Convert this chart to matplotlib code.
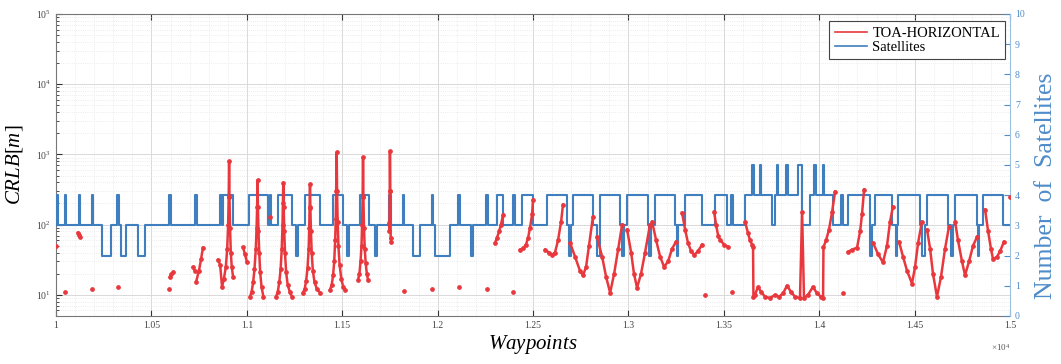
import numpy as np
import matplotlib.pyplot as plt
from matplotlib.lines import Line2D
from matplotlib.ticker import FixedLocator, LogLocator, NullFormatter, MultipleLocator

plt.rcParams['font.family'] = 'Liberation Serif'
plt.rcParams['mathtext.fontset'] = 'custom'
plt.rcParams['mathtext.rm'] = 'Liberation Serif'
plt.rcParams['mathtext.it'] = 'Liberation Serif:italic'

nan = np.nan

# number of visible satellites (step, level holds from x until next x)
sat_x = [10000, 10002, 10010, 10045, 10052, 10118, 10125, 10186, 10193, 10241, 10288, 10322, 10329,
         10341, 10367, 10430, 10466, 10594, 10601, 10726, 10740, 10862, 10869, 10875, 10928, 11012,
         11111, 11119, 11126, 11163, 11237, 11260, 11267, 11305, 11384, 11452, 11504, 11527, 11534,
         11593, 11640, 11674, 11681, 11747, 11754, 11816, 11823, 11871, 11908, 11968, 11975, 11986,
         12065, 12109, 12116, 12177, 12184, 12256, 12263, 12311, 12343, 12397, 12404, 12442, 12500,
         12573, 12678, 12689, 12700, 12710, 12814, 12835, 12851, 12956, 12968, 12976, 12993, 13103,
         13110, 13117, 13139, 13244, 13252, 13259, 13297, 13386, 13454, 13517, 13540, 13547, 13611,
         13650, 13657, 13687, 13694, 13753, 13768, 13776, 13783, 13828, 13835, 13889, 13910, 13952,
         13975, 13982, 14017, 14024, 14072, 14116, 14123, 14151, 14266, 14274, 14292, 14381, 14400,
         14410, 14413, 14528, 14540, 14556, 14565, 14675, 14690, 14700, 14712, 14827, 14830, 14837,
         14858, 14963, 15000]
sat_n = [3, 4, 3, 4, 3, 4, 3, 4, 3, 2, 3, 4, 3,
         2, 3, 2, 3, 4, 3, 4, 3, 4, 3, 4, 3, 4,
         3, 4, 3, 4, 3, 2, 3, 4, 3, 4, 3, 2, 3,
         4, 3, 2, 3, 4, 3, 4, 3, 2, 3, 4, 3, 2,
         3, 4, 3, 2, 3, 4, 3, 4, 3, 4, 3, 4, 3,
         4, 3, 2, 3, 4, 3, 2, 4, 3, 2, 3, 4, 3,
         2, 3, 4, 3, 2, 3, 4, 3, 4, 3, 4, 3, 4,
         5, 4, 5, 4, 3, 4, 5, 4, 5, 4, 5, 3, 4,
         5, 4, 5, 4, 3, 4, 3, 4, 2, 3, 4, 3, 2,
         3, 4, 3, 2, 3, 4, 3, 2, 3, 4, 3, 2, 3,
         4, 3, 3]

# CRLB horizontal (TOA), nan separates the track pieces
crlb_x = [10000, nan, 10047, nan, 10115, 10120, 10126, nan, 10189, nan, 10325, nan, 10592, nan,
          10597, 10605, 10613, nan, 10718, 10728, nan, 10734, 10749, 10760, 10770, nan,
          10849, 10860, 10870, 10880, 10890, 10897, 10902, 10905, 10907, 10909, 10912, 10916, 10921, 10928, nan,
          10980, 10990, 11001, nan,
          11017, 11025, 11033, 11040, 11047, 11051, 11054, 11056, 11058, 11061, 11065, 11070, 11077, 11087, nan,
          11122, nan,
          11153, 11162, 11170, 11177, 11183, 11187, 11189, 11191, 11193, 11196, 11200, 11206, 11214, 11225, 11237, nan,
          11294, 11303, 11311, 11318, 11324, 11327, 11329, 11331, 11333, 11336, 11340, 11346, 11355, 11368, 11384, nan,
          11436, 11445, 11452, 11458, 11463, 11466, 11468, 11471, 11473, 11476, 11480, 11486, 11495, 11505, 11515, nan,
          11583, 11590, 11596, 11601, 11604, 11607, 11609, 11611, 11614, 11618, 11623, 11629, 11635, nan,
          11745, 11747, 11749, 11750, 11752, 11754, 11756, nan,
          11824, nan, 11971, nan, 12112, nan, 12259, nan,
          12301, 12311, 12322, 12332, 12343, nan, 12395, nan,
          12432, 12448, 12463, 12474, 12484, 12495, 12500, nan,
          12563, 12584, 12600, 12615, 12631, 12647, 12657, nan,
          12694, 12720, 12746, 12762, 12778, 12793, 12814, nan,
          12835, 12862, 12883, 12904, 12925, 12946, 12967, nan,
          12993, 13014, 13029, 13045, 13066, 13087, 13113, nan,
          13124, 13145, 13166, 13187, 13208, 13228, 13249, nan,
          13281, 13297, 13312, 13328, 13344, 13365, 13386, nan, 13401, nan,
          13449, 13459, 13470, 13480, 13501, 13522, nan, 13543, nan,
          13611, 13627, 13637, 13648, 13653, 13655, 13663, 13679, 13695, 13716, 13742, 13768, 13789,
          13810, 13831, 13852, 13873, 13899, 13910, 13920, 13941, 13967, 13988, 14009, 14020, 14022,
          14036, 14051, 14067, 14083, nan,
          14125, nan,
          14151, 14172, 14198, 14214, 14224, 14235, nan,
          14282, 14308, 14334, 14355, 14371, 14386, nan,
          14418, 14439, 14460, 14486, 14502, 14518, 14538, nan,
          14565, 14581, 14596, 14617, 14638, 14659, 14680, nan,
          14712, 14727, 14748, 14764, 14785, 14806, 14827, nan,
          14869, 14885, 14900, 14911, 14932, 14948, 14968, nan,
          15000]
crlb_y = [50, nan, 11.0, nan, 77, 72, 67, nan, 12.2, nan, 13, nan, 12.2, nan,
          18, 19.5, 21, nan, 25, 22, nan, 15.3, 22, 32, 47, nan,
          31.6, 27, 13, 17, 25, 45, 100, 250, 794, 250, 90, 40, 25, 18, nan,
          48, 38, 29, nan,
          9.4, 11, 15, 23, 45, 90, 180, 430, 180, 80, 40, 21, 13, 9.4, nan,
          130, nan,
          9.4, 11, 15, 23, 45, 100, 200, 398, 180, 80, 40, 21, 14, 11, 9.4, nan,
          10.7, 12, 16, 24, 45, 90, 180, 373, 170, 80, 40, 22, 15, 12, 10.7, nan,
          11.8, 14, 19, 30, 60, 120, 300, 1068, 300, 110, 50, 27, 17, 13, 11.8, nan,
          16.4, 20, 30, 50, 100, 250, 906, 250, 90, 45, 28, 20, 16.4, nan,
          107, 80, 300, 1104, 300, 65, 57, nan,
          11.2, nan, 12.2, nan, 13, nan, 12.2, nan,
          55, 65, 80, 100, 139, nan, 11.0, nan,
          44, 46, 52, 65, 90, 140, 227, nan,
          44, 40, 37, 40, 60, 110, 193, nan,
          55, 35, 22, 19, 25, 50, 130, nan,
          67, 35, 18, 10.7, 20, 45, 100, nan,
          85, 40, 20, 12.6, 20, 40, 100, nan,
          110, 60, 35, 25, 30, 45, 57, nan,
          148, 85, 55, 42, 37, 42, 52, nan, 10, nan,
          153, 100, 70, 61, 52, 48, nan, 11.0, nan,
          110, 75, 60, 52, 48, 9.4, 10, 13, 11, 9.4, 9.0, 10, 9.4,
          10.5, 13.5, 11, 9.4, 9.0, 153, 9.0, 10, 13, 10.5, 9.4, 9.0, 48,
          60, 85, 150, 296, nan,
          10.7, nan,
          41, 44, 47, 80, 140, 316, nan,
          55, 38, 29, 50, 110, 181, nan,
          57, 35, 22, 14.5, 25, 55, 110, nan,
          85, 45, 20, 9.4, 18, 45, 94, nan,
          110, 60, 30, 19, 30, 50, 67, nan,
          164, 80, 45, 32, 35, 42, 57, nan,
          250]

x_ticks = [10000, 10500, 11000, 11500, 12000, 12500, 13000, 13500, 14000, 14500, 15000]
x_ticklabels = ['1', '1.05', '1.1', '1.15', '1.2', '1.25', '1.3', '1.35', '1.4', '1.45', '1.5']

red = '#e8383d'
blue = '#3f7fc0'
blue_txt = '#4f8cc9'

fig = plt.figure(figsize=(10.61, 3.64), dpi=100)
# bottom: log axis with grid and ticks; middle: satellites; top: CRLB curve
ax = fig.add_axes([0.0528, 0.1319, 0.8992, 0.8297])
ax2 = ax.twinx()
ax3 = ax.twinx()
ax.set_zorder(0)
ax2.set_zorder(1)
ax3.set_zorder(2)
ax2.patch.set_visible(False)
ax3.patch.set_visible(False)

ax2.step(sat_x, sat_n, where='post', color=blue, lw=1.5)
ax3.plot(crlb_x, crlb_y, color=red, lw=1.8, marker='o', ms=2.4, mec=red, mfc=red)

ax.set_yscale('log')
ax.set_ylim(5, 1e5)
ax3.set_yscale('log')
ax3.set_ylim(5, 1e5)
ax.set_xlim(10000, 15000)
ax2.set_ylim(0, 10)
ax3.axis('off')

ax.xaxis.set_major_locator(FixedLocator(x_ticks))
ax.set_xticklabels(x_ticklabels)
ax.xaxis.set_minor_locator(MultipleLocator(100))
ax.yaxis.set_major_locator(LogLocator(base=10, numticks=10))
ax.yaxis.set_minor_locator(LogLocator(base=10, subs=np.arange(2, 10), numticks=20))
ax.yaxis.set_minor_formatter(NullFormatter())
ax2.yaxis.set_major_locator(MultipleLocator(1))

ax.grid(True, which='major', color='#d9d9d9', lw=0.7)
ax.grid(True, which='minor', color='#e6e6e6', lw=0.6, ls=':')

ax.tick_params(which='both', direction='in', top=True, colors='#333333', labelsize=7, labelcolor='#444444')
ax.tick_params(which='major', length=4)
ax.tick_params(which='minor', length=2)
ax.tick_params(axis='x', which='minor', length=0)
ax2.tick_params(axis='y', direction='in', colors=blue_txt, labelsize=7, length=4)

for s in ['left', 'bottom', 'top']:
    ax.spines[s].set_color('#777777')
ax.spines['right'].set_visible(False)
ax2.spines['right'].set_color('#9cbfe0')
for s in ['left', 'bottom', 'top']:
    ax2.spines[s].set_visible(False)

ax.set_ylabel('$CRLB[m]$', fontsize=15, labelpad=8)
ax.set_xlabel('$Waypoints$', fontsize=15, labelpad=2)
ax2.set_ylabel('Number  of  Satellites', fontsize=18.5, color=blue_txt)
ax2.yaxis.set_label_coords(1.026, 0.43)
ax.text(1.0, -0.085, r'$\times10^4$', transform=ax.transAxes, ha='right', va='top',
        fontsize=6.5, color='#555555')

handles = [Line2D([], [], color=red, lw=1.2), Line2D([], [], color=blue, lw=1.2)]
leg = ax3.legend(handles, ['TOA-HORIZONTAL', 'Satellites'], loc='upper right',
                 bbox_to_anchor=(0.9995, 0.99), fontsize=10.5, fancybox=False, framealpha=1,
                 edgecolor='#444444', handlelength=2.2, borderpad=0.35, labelspacing=0.1,
                 handletextpad=0.4, borderaxespad=0.3)
leg.get_frame().set_linewidth(0.8)

fig.savefig('out.png', dpi=100)
